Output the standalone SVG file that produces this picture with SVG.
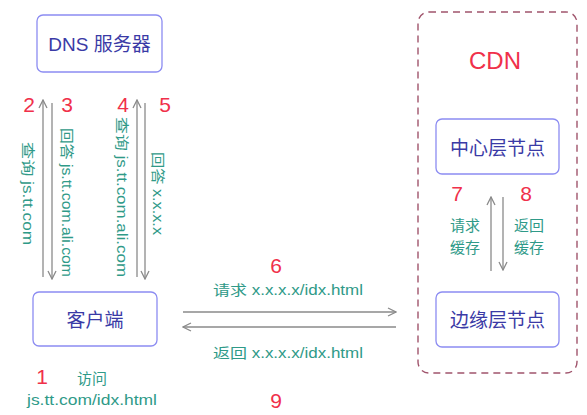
<svg xmlns="http://www.w3.org/2000/svg" width="587" height="415" viewBox="0 0 587 415">
<defs>
<marker id="ah" viewBox="0 0 10 10" refX="9" refY="5" markerWidth="10" markerHeight="10" markerUnits="userSpaceOnUse" orient="auto">
<path d="M1,1 L9,5 L1,9" fill="none" stroke="#8a8a8a" stroke-width="1.3"/>
</marker>
<style>
.box{fill:#fff;stroke:#8c8cf2;stroke-width:1.3}
.nt{font-family:"Liberation Sans","Noto Sans CJK SC",sans-serif;font-size:19px;fill:#3a3aa6;text-anchor:middle;dominant-baseline:central}
.num{font-family:"Liberation Sans","Noto Sans CJK SC",sans-serif;font-size:21px;fill:#f0304a;text-anchor:middle;dominant-baseline:central}
.lb{font-family:"Liberation Sans","Noto Sans CJK SC",sans-serif;font-size:14px;fill:#2f9a88;text-anchor:middle;dominant-baseline:central}
.lb2{font-family:"Liberation Sans","Noto Sans CJK SC",sans-serif;font-size:15px;fill:#2f9a88;text-anchor:middle;dominant-baseline:central}
.ln{stroke:#8a8a8a;stroke-width:1.3;fill:none;marker-end:url(#ah)}
</style>
</defs>
<rect width="587" height="415" fill="#fff"/>
<g id="cdn">
<rect x="418" y="12" width="159" height="361" rx="11" fill="none" stroke="#a0546c" stroke-width="1.4" stroke-dasharray="7,5"/>
<text x="495" y="60" font-family="Liberation Sans, sans-serif" font-size="24" fill="#f0304a" text-anchor="middle" dominant-baseline="central">CDN</text>
</g>
<g id="dns">
<rect class="box" x="37" y="15" width="125" height="57" rx="6"/>
<text class="nt" x="99.5" y="44">DNS 服务器</text>
</g>
<g id="client">
<rect class="box" x="33" y="292" width="124" height="54" rx="6"/>
<text class="nt" x="95" y="320">客户端</text>
</g>
<g id="center">
<rect class="box" x="436" y="119" width="123" height="55" rx="6"/>
<text class="nt" x="497.5" y="148">中心层节点</text>
</g>
<g id="edge">
<rect class="box" x="436" y="292" width="123" height="55" rx="6"/>
<text class="nt" x="497.5" y="320">边缘层节点</text>
</g>
<g id="connectors">
<line class="ln" x1="43" y1="277" x2="43" y2="100"/>
<line class="ln" x1="52" y1="103" x2="52" y2="279"/>
<line class="ln" x1="137" y1="277" x2="137" y2="100"/>
<line class="ln" x1="145" y1="103" x2="145" y2="279"/>
<line class="ln" x1="183" y1="312" x2="396" y2="312"/>
<line class="ln" x1="396" y1="327" x2="183" y2="327"/>
<line class="ln" x1="491" y1="271" x2="491" y2="197"/>
<line class="ln" x1="503" y1="197" x2="503" y2="270"/>
</g>
<g id="labels">
<text class="num" x="29" y="104">2</text>
<text class="num" x="67" y="104">3</text>
<text class="num" x="123" y="104">4</text>
<text class="num" x="165" y="104">5</text>
<text class="num" x="42" y="376">1</text>
<text class="num" x="276" y="265">6</text>
<text class="num" x="276" y="400">9</text>
<text class="num" x="457" y="193">7</text>
<text class="num" x="526" y="193">8</text>
<text class="lb" transform="translate(28,193.5) rotate(90)" textLength="103" lengthAdjust="spacingAndGlyphs">查询 js.tt.com</text>
<text class="lb" transform="translate(67,202.5) rotate(90)" textLength="149" lengthAdjust="spacingAndGlyphs">回答 js.tt.com.ali.com</text>
<text class="lb" transform="translate(122,197) rotate(90)" textLength="160" lengthAdjust="spacingAndGlyphs">查询 js.tt.com.ali.com</text>
<text class="lb" transform="translate(158,193.5) rotate(90)" textLength="83" lengthAdjust="spacingAndGlyphs">回答 x.x.x.x</text>
<text class="lb2" x="92" y="378">访问</text>
<text class="lb" x="92" y="400" textLength="130" lengthAdjust="spacingAndGlyphs">js.tt.com/idx.html</text>
<text class="lb" x="288" y="290" textLength="150" lengthAdjust="spacingAndGlyphs">请求 x.x.x.x/idx.html</text>
<text class="lb" x="288" y="353" textLength="150" lengthAdjust="spacingAndGlyphs">返回 x.x.x.x/idx.html</text>
<text class="lb2" x="465" y="225">请求</text>
<text class="lb2" x="465" y="247">缓存</text>
<text class="lb2" x="529" y="225">返回</text>
<text class="lb2" x="529" y="247">缓存</text>
</g>
</svg>
